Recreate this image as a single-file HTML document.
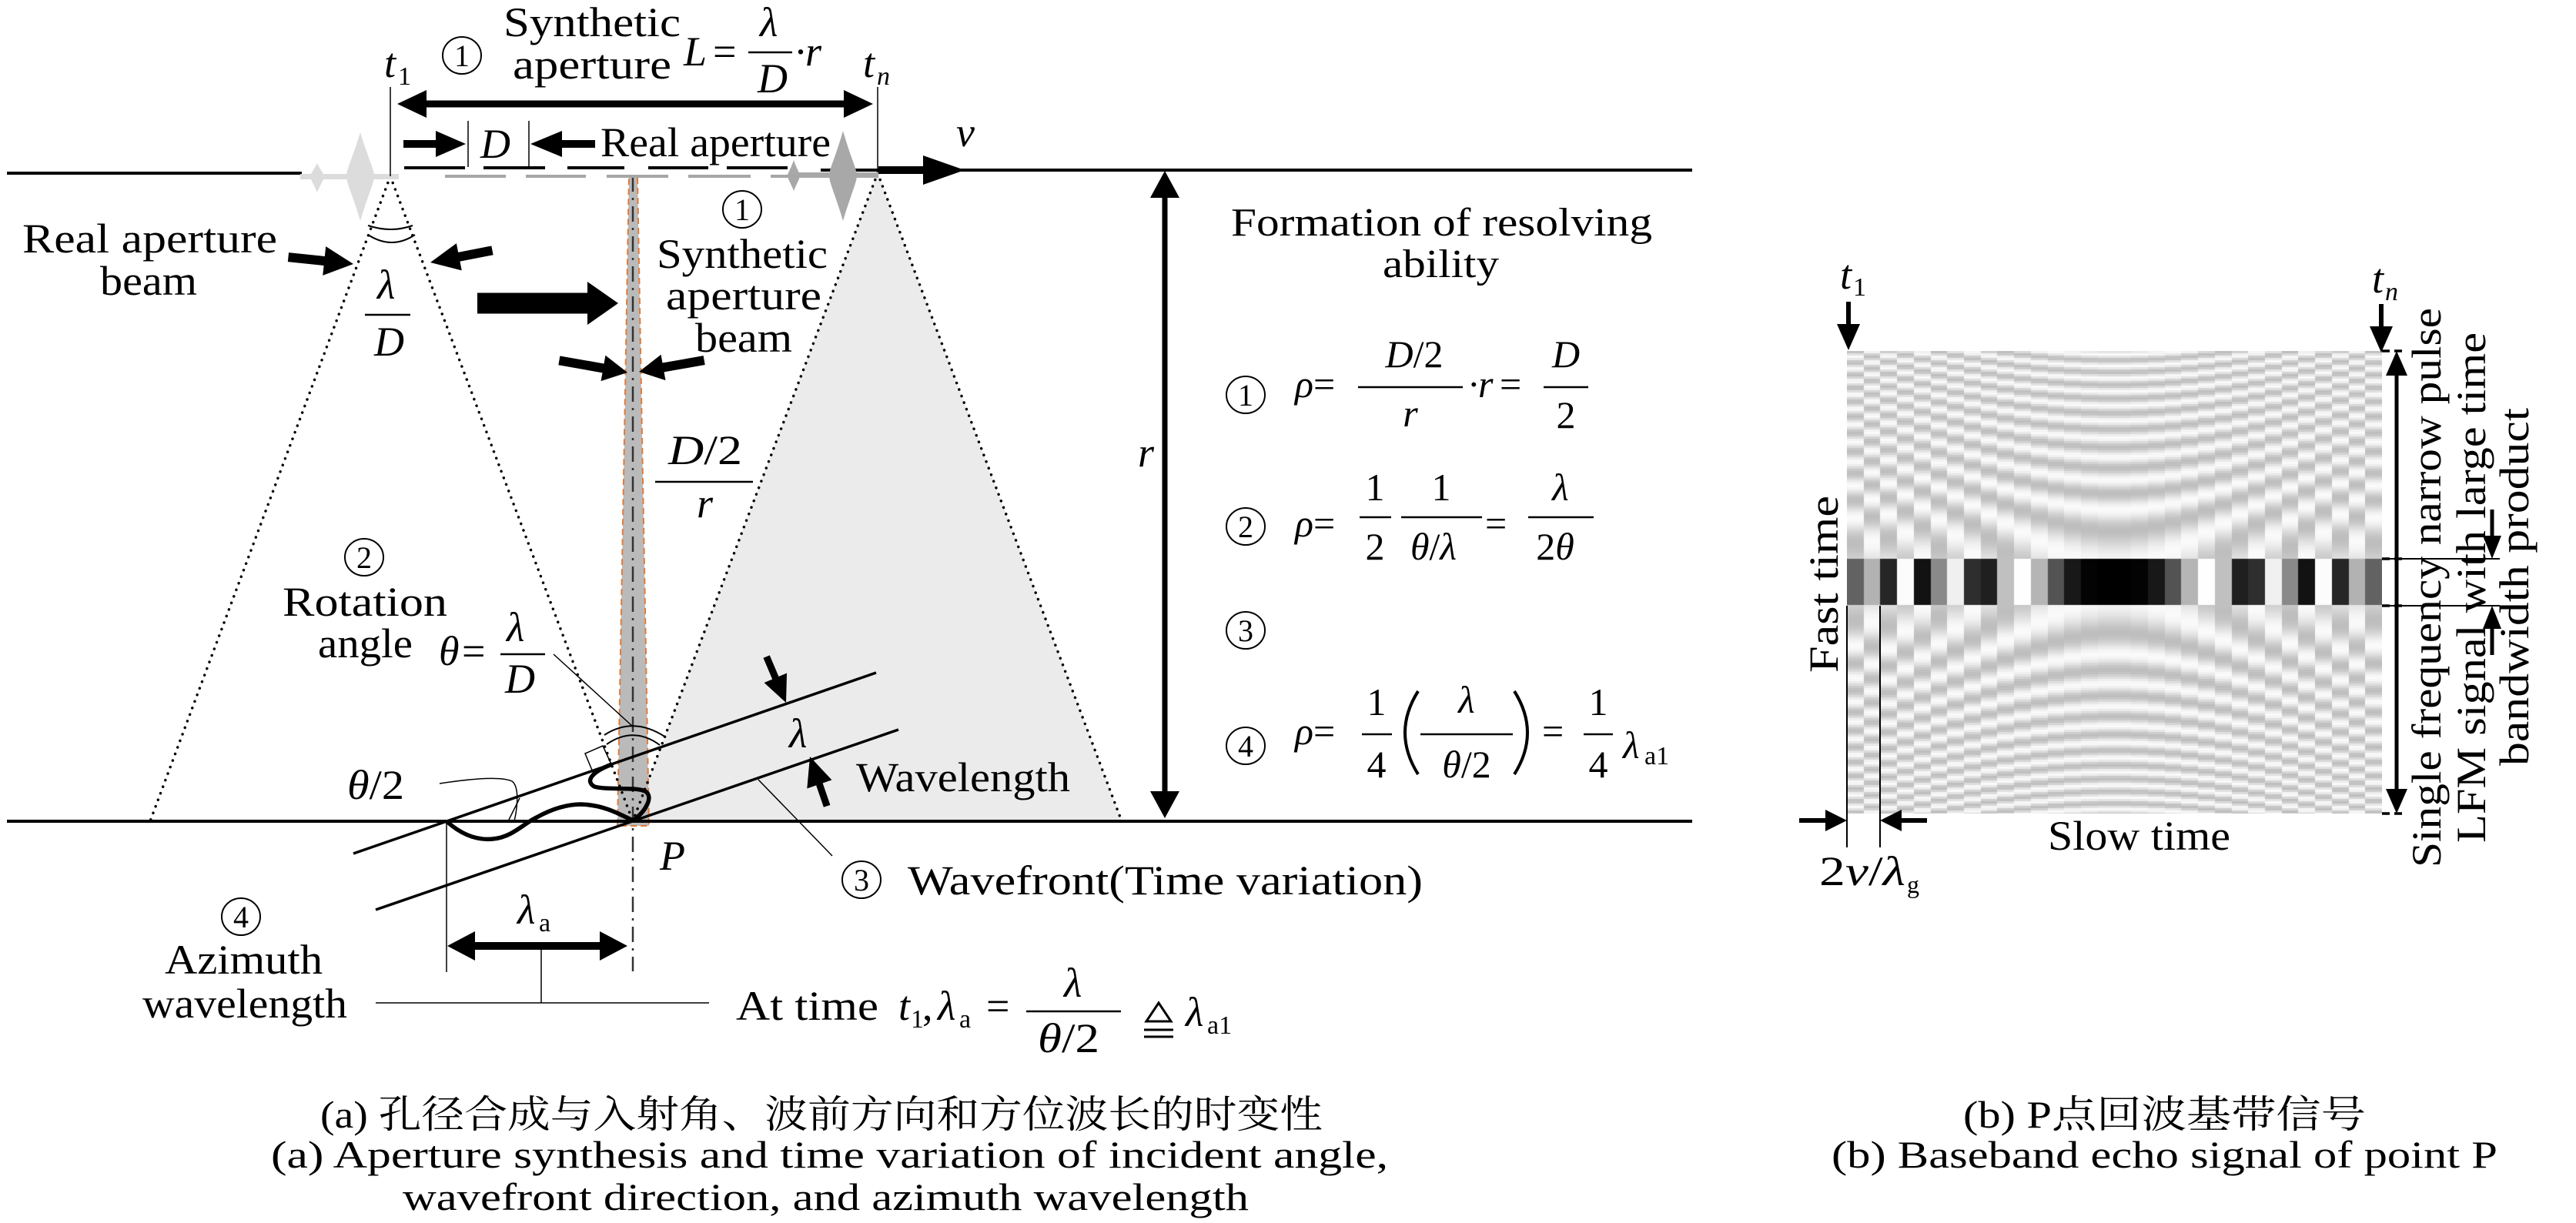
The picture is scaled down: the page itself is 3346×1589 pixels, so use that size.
<!DOCTYPE html>
<html><head><meta charset="utf-8"><style>
html,body{margin:0;padding:0;background:#fff}
#wrap{position:relative;width:3346px;height:1589px;overflow:hidden;background:#fff}
#c{position:absolute;left:2399px;top:456px;width:695px;height:601px;
background:linear-gradient(to bottom,#dadada 0,#dadada 270px,#3a3a3a 270px,#3a3a3a 331px,#dadada 331px)}
svg{position:absolute;left:0;top:0;font-family:"Liberation Serif",serif}
svg text{font-family:"Liberation Serif",serif;fill:#000}
svg text.cjk{font-family:"Liberation Serif","Noto Serif CJK SC",serif}
.i{font-style:italic}
</style></head><body><div id="wrap">
<canvas id="c" width="695" height="601"></canvas>
<svg width="3346" height="1589" viewBox="0 0 3346 1589" xmlns="http://www.w3.org/2000/svg" font-family="Liberation Serif, serif">
<polygon points="1140,225 822,1067 1457,1067" fill="#ebebeb"/>
<polygon points="817,229 828,229 843,1073 802,1073" fill="#bababa" stroke="#e07b39" stroke-width="2" stroke-dasharray="8,5"/>
<line x1="822" y1="229" x2="822" y2="1262" stroke="#333" stroke-width="2.5" stroke-dasharray="20,8,3,8"/>
<g stroke="#000" stroke-width="3.5" stroke-linecap="round" stroke-dasharray="0.1,9" fill="none">
<line x1="507" y1="229" x2="195" y2="1067"/>
<line x1="507" y1="229" x2="822" y2="1067"/>
<line x1="1140" y1="225" x2="822" y2="1067"/>
<line x1="1140" y1="225" x2="1457" y2="1067"/>
</g>
<line x1="9" y1="225" x2="392" y2="225" stroke="#000" stroke-width="4"/>
<line x1="1066" y1="221" x2="2198" y2="221" stroke="#000" stroke-width="4"/>
<g fill="#dcdcdc">
<rect x="390" y="226" width="128" height="7"/>
<path d="M468,172 C478,205 486,220 486,229 C486,238 478,253 468,287 C458,253 450,238 450,229 C450,220 458,205 468,172Z"/>
<path d="M412,212 C417,222 421,226 421,229 C421,233 417,238 412,250 C407,238 403,233 403,229 C403,226 407,222 412,212Z"/>
</g>
<g fill="#a8a8a8">
<rect x="1025" y="224" width="116" height="7"/>
<path d="M1095,170 C1105,205 1113,220 1113,228 C1113,237 1105,253 1095,287 C1085,253 1077,237 1077,228 C1077,220 1085,205 1095,170Z"/>
<path d="M1031,208 C1035,220 1039,225 1039,228 C1039,232 1035,238 1031,248 C1027,238 1023,232 1023,228 C1023,225 1027,220 1031,208Z"/>
</g>
<g stroke="#000" stroke-width="4">
<line x1="525" y1="218" x2="604" y2="218"/><line x1="628" y1="218" x2="708" y2="218"/>
<line x1="737" y1="218" x2="811" y2="218"/><line x1="842" y1="218" x2="920" y2="218"/>
<line x1="944" y1="218" x2="1023" y2="218"/>
</g>
<g stroke="#a6a6a6" stroke-width="4">
<line x1="578" y1="229" x2="657" y2="229"/><line x1="683" y1="229" x2="761" y2="229"/>
<line x1="788" y1="229" x2="868" y2="229"/><line x1="894" y1="229" x2="975" y2="229"/>
<line x1="1001" y1="229" x2="1040" y2="229"/>
</g>
<g stroke="#000" stroke-width="1.5">
<line x1="507" y1="113" x2="507" y2="229"/><line x1="1140" y1="113" x2="1140" y2="222"/>
<line x1="608" y1="157" x2="608" y2="217"/><line x1="687" y1="157" x2="687" y2="217"/>
</g>
<g stroke="#000" stroke-width="2" fill="none">
<path d="M478,293 Q508,303 536,293"/><path d="M478,305 Q509,325 539,305"/>
<path d="M785,955 Q823,930 865,958"/><path d="M788,967 Q823,943 857,968"/>
</g>
<line x1="9" y1="1067" x2="2198" y2="1067" stroke="#000" stroke-width="4"/>
<g stroke="#000" stroke-width="3.5">
<line x1="459" y1="1109" x2="1138" y2="874"/><line x1="488" y1="1182" x2="1167" y2="948"/>
</g>
<path d="M580,1067 C600,1085 620,1092 640,1090 C665,1088 680,1070 697,1062 C715,1052 735,1045 755,1045 C785,1046 805,1058 822,1066 C838,1055 850,1035 838,1028 C825,1022 790,1027 772,1022 C760,1015 768,1003 795,993" stroke="#000" stroke-width="5.5" fill="none"/>
<polygon points="760,979 783,969 795,995 770,1003" fill="none" stroke="#000" stroke-width="1.5"/>
<g stroke="#000" stroke-width="1.5" fill="none">
<line x1="719" y1="850" x2="822" y2="944"/>
<path d="M571,1018 C610,1012 650,1008 665,1015 C675,1022 672,1050 668,1067"/>
<line x1="660" y1="1067" x2="675" y2="1037"/>
<line x1="985" y1="1013" x2="1081" y2="1112"/>
<line x1="580" y1="1067" x2="580" y2="1263"/>
<line x1="703" y1="1229" x2="703" y2="1303"/>
<line x1="488" y1="1303" x2="921" y2="1303"/>
</g>
<g fill="#000">
<path transform="translate(459,343) rotate(6)" d="M0,0L-38,-19L-38,-6L-85,-6L-85,6L-38,6L-38,19Z"/>
<path transform="translate(559,341) rotate(169)" d="M0,0L-38,-18L-38,-6L-82,-6L-82,6L-38,6L-38,18Z"/>
<path transform="translate(803,394)" d="M0,0L-40,-28L-40,-13.5L-183,-13.5L-183,13.5L-40,13.5L-40,28Z"/>
<path transform="translate(815,484) rotate(10)" d="M0,0L-32,-17L-32,-6L-90,-6L-90,6L-32,6L-32,17Z"/>
<path transform="translate(830,483) rotate(170)" d="M0,0L-32,-17L-32,-6L-86,-6L-86,6L-32,6L-32,17Z"/>
<rect x="552" y="130.5" width="546" height="9"/>
<polygon points="516,135 554,117 554,153"/><polygon points="1134,135 1096,117 1096,153"/>
<path transform="translate(605,187)" d="M0,0L-39,-17L-39,-5L-81,-5L-81,5L-39,5L-39,17Z"/>
<path transform="translate(689,187) rotate(180)" d="M0,0L-41,-17L-41,-5L-84,-5L-84,5L-41,5L-41,17Z"/>
<rect x="1141" y="216" width="62" height="10"/><polygon points="1253,221 1199,202 1199,240"/>
<rect x="1509.5" y="255" width="7" height="775"/>
<polygon points="1513,222 1494,257 1532,257"/><polygon points="1513,1063 1494,1028 1532,1028"/>
<path transform="translate(1021,913) rotate(67)" d="M0,0L-35,-16L-35,-4.5L-65,-4.5L-65,4.5L-35,4.5L-35,16Z"/>
<path transform="translate(1052,983) rotate(-109)" d="M0,0L-38,-17L-38,-4.5L-68,-4.5L-68,4.5L-38,4.5L-38,17Z"/>
<rect x="615" y="1224" width="166" height="10"/>
<polygon points="581,1229 617,1210 617,1248"/><polygon points="815,1229 779,1210 779,1248"/>
<rect x="2398" y="392" width="6" height="31"/><polygon points="2401,455 2386,421 2416,421"/>
<rect x="3090" y="395" width="6" height="31"/><polygon points="3093,458 3078,424 3108,424"/>
<rect x="3110.5" y="486" width="5" height="541"/>
<polygon points="3113,456 3099,488 3127,488"/><polygon points="3113,1057 3099,1025 3127,1025"/>
<rect x="3234.5" y="662" width="5" height="36"/><polygon points="3237,726 3225,696 3249,696"/>
<rect x="3234.5" y="815" width="5" height="36"/><polygon points="3237,787 3225,817 3249,817"/>
<rect x="2337" y="1063" width="36" height="6"/><polygon points="2399,1066 2371,1052 2371,1080"/>
<rect x="2468" y="1063" width="35" height="6"/><polygon points="2442,1066 2470,1052 2470,1080"/>
</g>
<g stroke="#000">
<line x1="2399" y1="787" x2="2399" y2="1101" stroke-width="2"/>
<line x1="2442" y1="787" x2="2442" y2="1101" stroke-width="2"/>
<line x1="3094" y1="726" x2="3247" y2="726" stroke-width="2"/>
<line x1="3094" y1="787" x2="3247" y2="787" stroke-width="2"/>
<g stroke-width="3.5" stroke-dasharray="10,6">
<line x1="3094" y1="456" x2="3126" y2="456"/><line x1="3094" y1="1057" x2="3126" y2="1057"/>
<line x1="3094" y1="726" x2="3126" y2="726"/><line x1="3094" y1="787" x2="3126" y2="787"/>
</g>
</g>
<g fill="none" stroke="#000" stroke-width="2">
<ellipse cx="600" cy="72" rx="25" ry="24"/>
<ellipse cx="964" cy="272" rx="25" ry="24"/>
<ellipse cx="473" cy="724" rx="25" ry="24"/>
<ellipse cx="1119" cy="1143" rx="25" ry="24"/>
<ellipse cx="313" cy="1191" rx="25" ry="24"/>
<ellipse cx="1618" cy="513" rx="25" ry="24"/>
<ellipse cx="1618" cy="684" rx="25" ry="24"/>
<ellipse cx="1618" cy="819" rx="25" ry="24"/>
<ellipse cx="1618" cy="969" rx="25" ry="24"/>
</g>
<g font-size="40" text-anchor="middle" font-family="Liberation Serif, serif">
<text x="600" y="86">1</text><text x="964" y="286">1</text><text x="473" y="738">2</text>
<text x="1119" y="1157">3</text><text x="313" y="1205">4</text>
<text x="1618" y="527">1</text><text x="1618" y="698">2</text><text x="1618" y="833">3</text><text x="1618" y="983">4</text>
</g>
<g stroke="#000" stroke-width="2.5">
<line x1="972" y1="68" x2="1029" y2="68"/>
<line x1="474" y1="409" x2="533" y2="409"/>
<line x1="851" y1="626" x2="978" y2="626"/>
<line x1="650" y1="850" x2="708" y2="850"/>
<line x1="1333" y1="1314" x2="1456" y2="1314"/>
<line x1="1764" y1="503" x2="1900" y2="503"/><line x1="2005" y1="503" x2="2063" y2="503"/>
<line x1="1766" y1="672" x2="1807" y2="672"/><line x1="1820" y1="672" x2="1925" y2="672"/><line x1="1985" y1="672" x2="2070" y2="672"/>
<line x1="1769" y1="954" x2="1808" y2="954"/><line x1="1845" y1="954" x2="1965" y2="954"/><line x1="2057" y1="954" x2="2095" y2="954"/>
</g>
<g stroke="#000" stroke-width="4" fill="none">
<path d="M1842,898 Q1808,952 1842,1006"/><path d="M1967,898 Q2001,952 1967,1006"/>
</g>
<polygon points="1505,1303 1489,1327 1521,1327" fill="none" stroke="#000" stroke-width="3"/>
<g stroke="#000" stroke-width="3"><line x1="1486" y1="1338" x2="1524" y2="1338"/><line x1="1486" y1="1347" x2="1524" y2="1347"/></g>
<g font-size="54" font-family="Liberation Serif, serif">
<text x="654" y="47" textLength="230" lengthAdjust="spacingAndGlyphs">Synthetic</text>
<text x="666" y="102" textLength="206" lengthAdjust="spacingAndGlyphs">aperture</text>
<text x="888" y="85" class="i">L</text><text x="926" y="85">=</text>
<text x="987" y="47" class="i">λ</text><text x="984" y="120" class="i">D</text>
<text x="1031" y="85">·</text><text x="1046" y="85" class="i">r</text>
<text x="499" y="100" class="i">t</text><text x="517" y="110" font-size="34">1</text>
<text x="1121" y="100" class="i">t</text><text x="1139" y="110" font-size="34" class="i">n</text>
<text x="624" y="205" class="i">D</text>
<text x="780" y="203" textLength="299" lengthAdjust="spacingAndGlyphs">Real aperture</text>
<text x="1242" y="190" class="i">v</text>
<text x="1478" y="606" class="i">r</text>
<text x="29" y="328" textLength="331" lengthAdjust="spacingAndGlyphs">Real aperture</text>
<text x="130" y="383" textLength="126" lengthAdjust="spacingAndGlyphs">beam</text>
<text x="490" y="388" class="i">λ</text><text x="486" y="462" class="i">D</text>
<text x="853" y="348" textLength="222" lengthAdjust="spacingAndGlyphs">Synthetic</text>
<text x="865" y="402" textLength="202" lengthAdjust="spacingAndGlyphs">aperture</text>
<text x="903" y="457" textLength="126" lengthAdjust="spacingAndGlyphs">beam</text>
<text x="868" y="603" textLength="96" lengthAdjust="spacingAndGlyphs"><tspan class="i">D</tspan>/2</text>
<text x="905" y="672" class="i">r</text>
<text x="367" y="800" textLength="214" lengthAdjust="spacingAndGlyphs">Rotation</text>
<text x="413" y="854" textLength="123" lengthAdjust="spacingAndGlyphs">angle</text>
<text x="570" y="864" class="i">θ</text><text x="600" y="864">=</text>
<text x="658" y="833" class="i">λ</text><text x="656" y="900" class="i">D</text>
<text x="451" y="1038" textLength="74" lengthAdjust="spacingAndGlyphs"><tspan class="i">θ</tspan>/2</text>
<text x="1025" y="971" class="i">λ</text>
<text x="1112" y="1028" textLength="278" lengthAdjust="spacingAndGlyphs">Wavelength</text>
<text x="857" y="1130" class="i">P</text>
<text x="1179" y="1162" textLength="669" lengthAdjust="spacingAndGlyphs">Wavefront(Time variation)</text>
<text x="214" y="1265" textLength="205" lengthAdjust="spacingAndGlyphs">Azimuth</text>
<text x="185" y="1322" textLength="266" lengthAdjust="spacingAndGlyphs">wavelength</text>
<text x="672" y="1200" class="i">λ</text><text x="700" y="1210" font-size="34">a</text>
<text x="956" y="1325" textLength="185" lengthAdjust="spacingAndGlyphs">At time</text>
<text x="1167" y="1325" class="i">t</text><text x="1183" y="1335" font-size="34">1</text><text x="1198" y="1325">,</text>
<text x="1218" y="1325" class="i">λ</text><text x="1246" y="1335" font-size="34">a</text><text x="1281" y="1325">=</text>
<text x="1382" y="1295" class="i">λ</text>
<text x="1348" y="1367" textLength="80" lengthAdjust="spacingAndGlyphs"><tspan class="i">θ</tspan>/2</text>
<text x="1540" y="1333" class="i">λ</text><text x="1568" y="1343" font-size="34">a1</text>
</g>
<g font-size="52" font-family="Liberation Serif, serif">
<text x="1599" y="306" textLength="547" lengthAdjust="spacingAndGlyphs">Formation of resolving</text>
<text x="1796" y="360" textLength="151" lengthAdjust="spacingAndGlyphs">ability</text>
</g>
<g font-size="50" font-family="Liberation Serif, serif">
<text x="1682" y="516"><tspan class="i">ρ</tspan>=</text>
<text x="1837" y="477" text-anchor="middle"><tspan class="i">D</tspan>/2</text>
<text x="1832" y="554" text-anchor="middle" class="i">r</text>
<text x="1906" y="516">·</text><text x="1920" y="516" class="i">r</text><text x="1948" y="516">=</text>
<text x="2034" y="477" text-anchor="middle" class="i">D</text>
<text x="2034" y="556" text-anchor="middle">2</text>
<text x="1682" y="697"><tspan class="i">ρ</tspan>=</text>
<text x="1786" y="650" text-anchor="middle">1</text><text x="1786" y="727" text-anchor="middle">2</text>
<text x="1872" y="650" text-anchor="middle">1</text>
<text x="1862" y="727" text-anchor="middle"><tspan class="i">θ</tspan>/<tspan class="i">λ</tspan></text>
<text x="1929" y="697">=</text>
<text x="2027" y="650" text-anchor="middle" class="i">λ</text>
<text x="2020" y="727" text-anchor="middle">2<tspan class="i">θ</tspan></text>
<text x="1682" y="967"><tspan class="i">ρ</tspan>=</text>
<text x="1788" y="929" text-anchor="middle">1</text><text x="1788" y="1010" text-anchor="middle">4</text>
<text x="1905" y="926" text-anchor="middle" class="i">λ</text>
<text x="1905" y="1010" text-anchor="middle"><tspan class="i">θ</tspan>/2</text>
<text x="2003" y="967">=</text>
<text x="2076" y="929" text-anchor="middle">1</text><text x="2076" y="1010" text-anchor="middle">4</text>
<text x="2108" y="985" class="i">λ</text><text x="2136" y="993" font-size="34">a1</text>
</g>
<g font-size="54" font-family="Liberation Serif, serif">
<text x="2390" y="375" class="i">t</text><text x="2407" y="384" font-size="34">1</text>
<text x="3081" y="380" class="i">t</text><text x="3098" y="390" font-size="34" class="i">n</text>
<text transform="translate(2387,759) rotate(-90)" text-anchor="middle" textLength="230" lengthAdjust="spacingAndGlyphs">Fast time</text>
<text x="2660" y="1104" textLength="237" lengthAdjust="spacingAndGlyphs">Slow time</text>
<text x="2363" y="1150" textLength="112" lengthAdjust="spacingAndGlyphs">2<tspan class="i">v</tspan>/<tspan class="i">λ</tspan></text>
<text x="2477" y="1160" font-size="32">g</text>
<text transform="translate(3170,763.5) rotate(-90)" text-anchor="middle" textLength="727" lengthAdjust="spacingAndGlyphs">Single frequency narrow pulse</text>
<text transform="translate(3228,763.5) rotate(-90)" text-anchor="middle" textLength="663" lengthAdjust="spacingAndGlyphs">LFM signal with large time</text>
<text transform="translate(3284,762.5) rotate(-90)" text-anchor="middle" textLength="465" lengthAdjust="spacingAndGlyphs">bandwidth product</text>
</g>
<g font-size="50" font-family="Liberation Serif, serif">
<text class="cjk" x="416" y="1465" textLength="1302" lengthAdjust="spacingAndGlyphs">(a) 孔径合成与入射角、波前方向和方位波长的时变性</text>
<text x="352" y="1517" textLength="1451" lengthAdjust="spacingAndGlyphs">(a) Aperture synthesis and time variation of incident angle,</text>
<text x="523" y="1572" textLength="1099" lengthAdjust="spacingAndGlyphs">wavefront direction, and azimuth wavelength</text>
<text class="cjk" x="2550" y="1465" textLength="523" lengthAdjust="spacingAndGlyphs">(b) P点回波基带信号</text>
<text x="2379" y="1517" textLength="865" lengthAdjust="spacingAndGlyphs">(b) Baseband echo signal of point P</text>
</g>
</svg>
</div>
<script>
(function(){
var c=document.getElementById('c');if(!c||!c.getContext)return;
var g=c.getContext('2d');var W=695,H=601,N=32,cw=W/N,A=7.2e-4,B=2.1e-4;
for(var j=0;j<N;j++){var e=(j+0.5)*cw-W/2;var x0=Math.round(j*cw),x1=Math.round((j+1)*cw);
for(var y=0;y<H;y+=3){var t=y+1.5-300;var v;
if(t>=-30&&t<31){v=127.5-127.5*Math.cos(B*e*e);}
else{v=220+30*Math.cos(A*t*t-B*e*e);}
v=Math.max(0,Math.min(255,Math.round(v)));
g.fillStyle='rgb('+v+','+v+','+v+')';g.fillRect(x0,y,x1-x0,3);}}
})();
</script>
</body></html>
